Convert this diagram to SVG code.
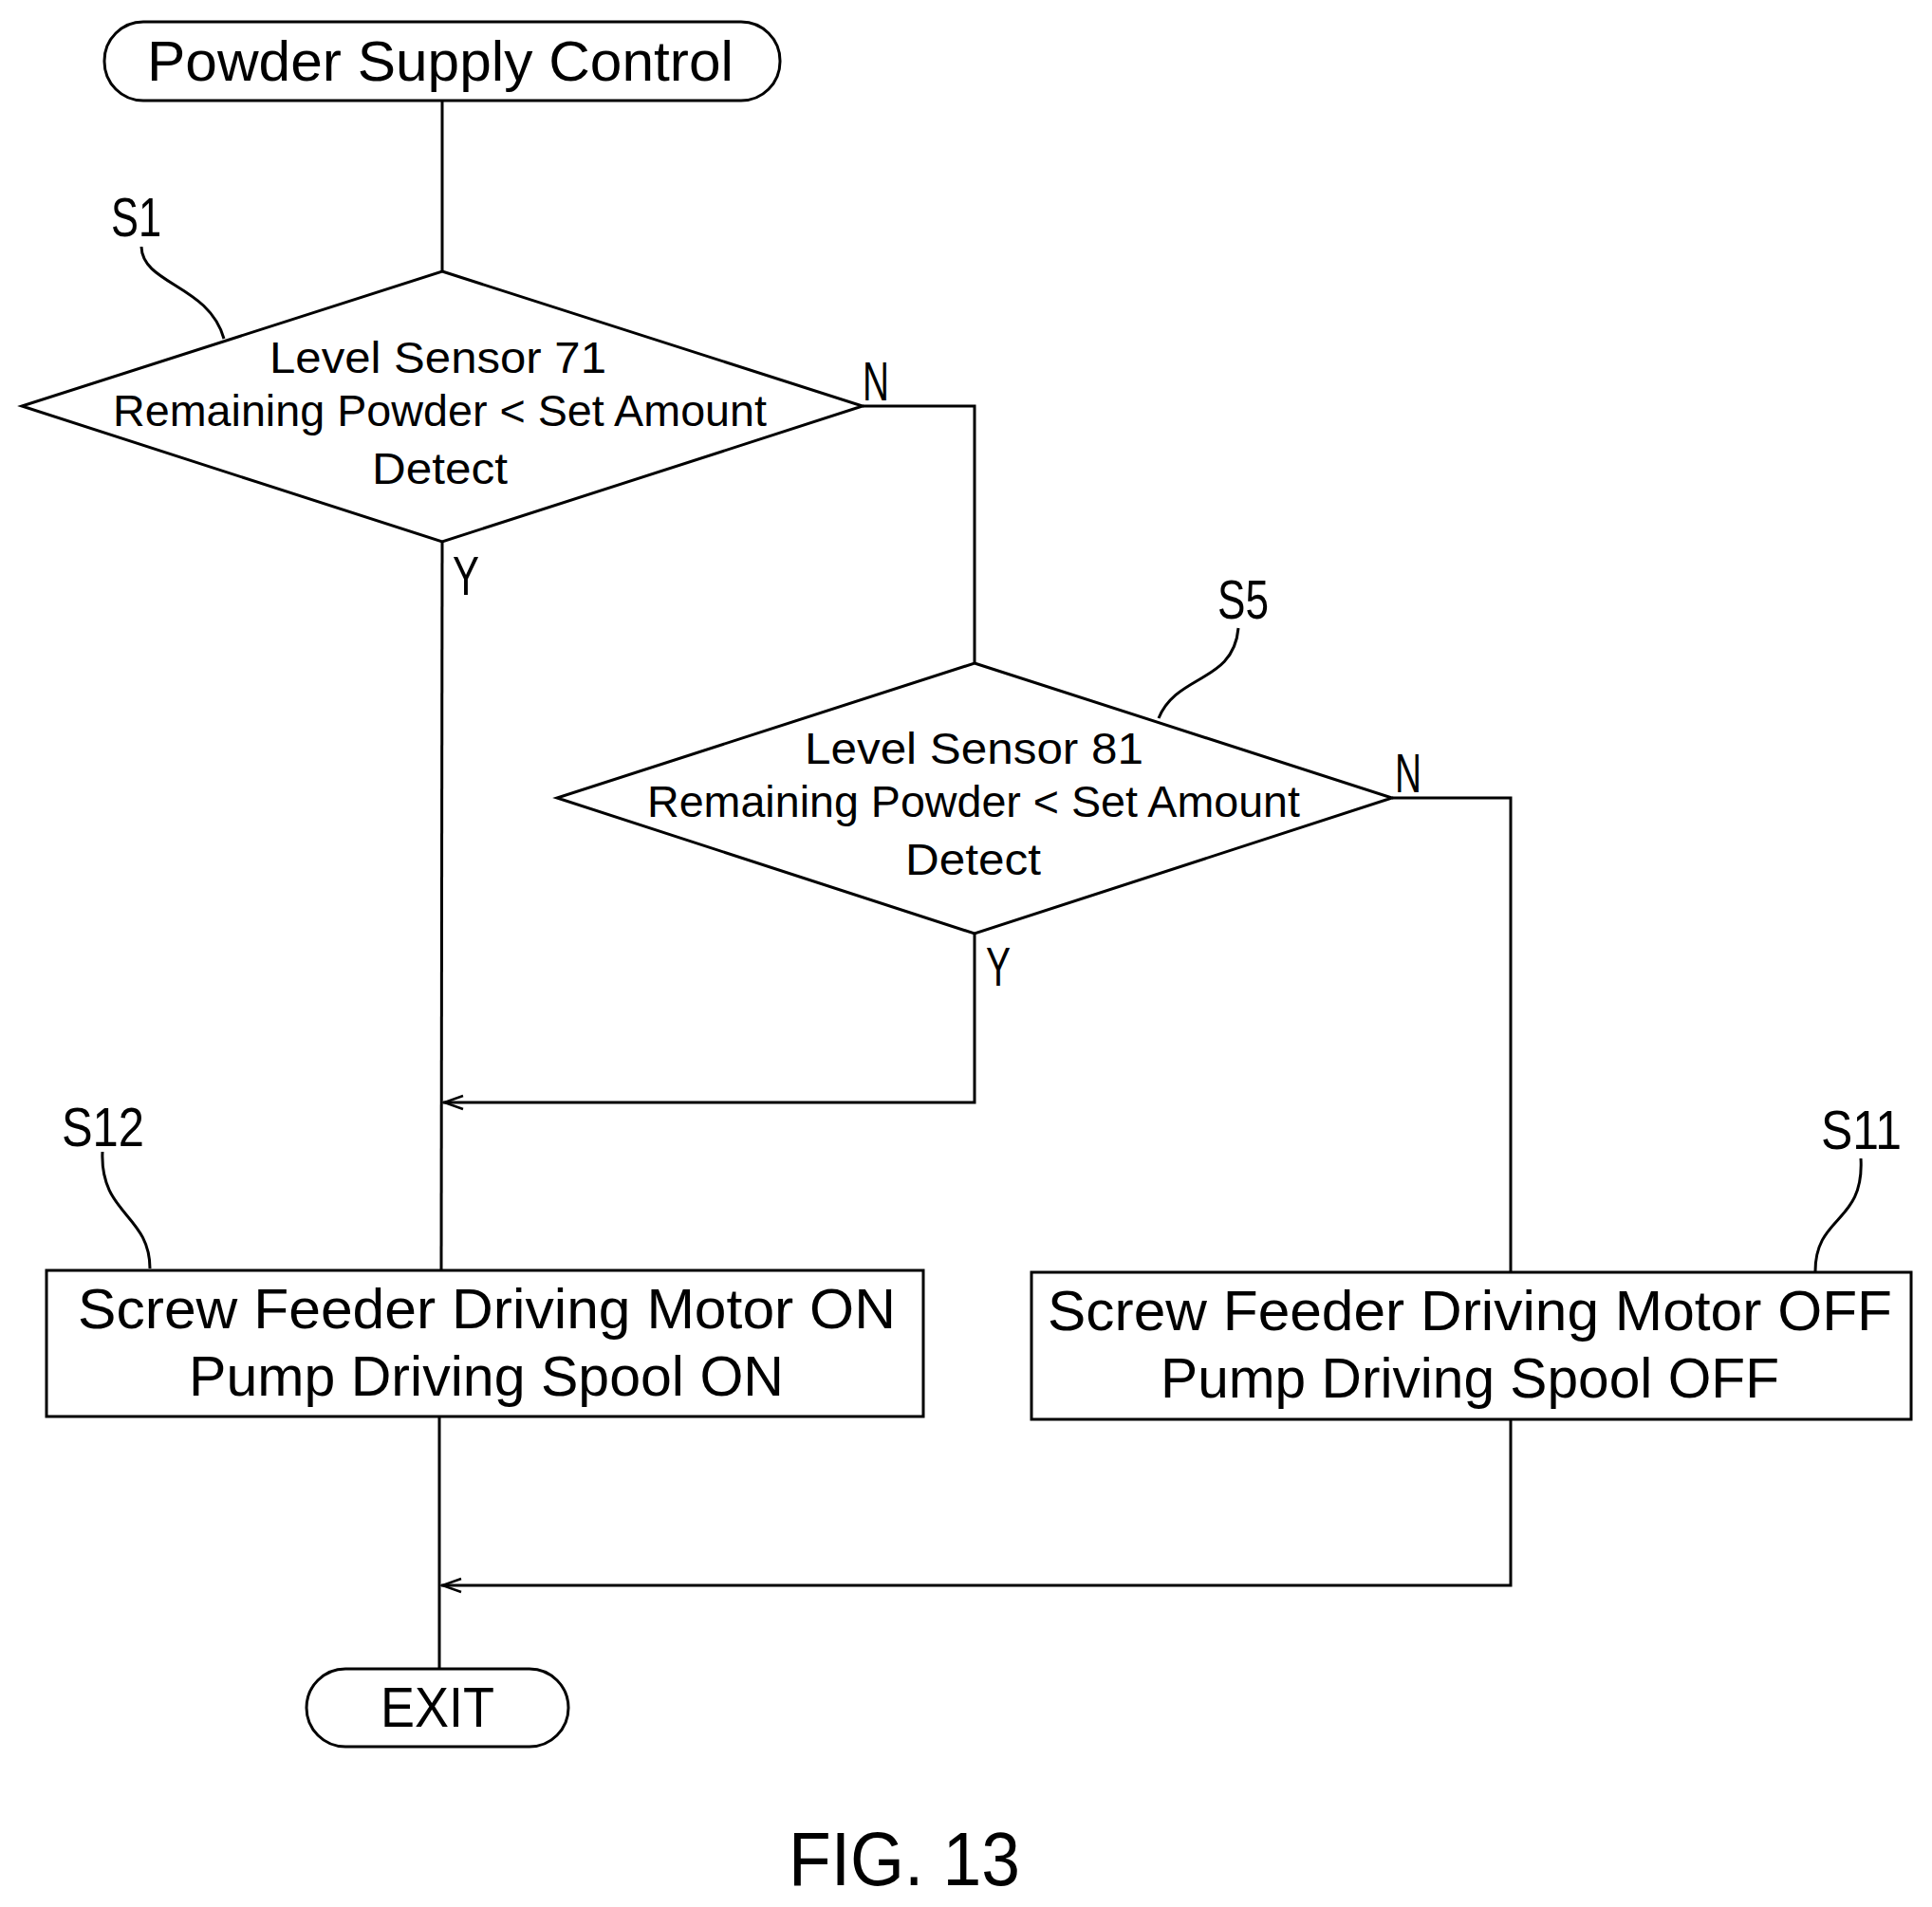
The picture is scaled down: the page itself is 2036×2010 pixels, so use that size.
<svg xmlns="http://www.w3.org/2000/svg" width="2036" height="2010" viewBox="0 0 2036 2010">
<style>
.s{fill:none;stroke:#000;stroke-width:3}
.t{font-family:"Liberation Sans",sans-serif;fill:#000;text-anchor:start}
.d{font-size:46px}.b{font-size:60px}.l{font-size:58px}
</style>
<defs><marker id="a" markerWidth="20" markerHeight="20" refX="2" refY="10" orient="auto" markerUnits="userSpaceOnUse"><polyline points="20,2 2,10 20,18" fill="none" stroke="#000" stroke-width="2.5" transform="rotate(180 10 10) translate(0,0)"/></marker>
<marker id="h" markerWidth="24" markerHeight="20" refX="1" refY="10" orient="0" markerUnits="userSpaceOnUse"><polyline points="22,3 2,10 22,17" fill="none" stroke="#000" stroke-width="2.5"/></marker></defs>
<rect width="2036" height="2010" fill="#fff"/>
<g id="connectors" class="s">
<line x1="466" y1="106" x2="466" y2="286"/>
<polyline points="909,428 1027,428 1027,699"/>
<polyline points="1467,841 1592,841 1592,1341"/>
<line x1="466" y1="571" x2="465" y2="1339"/>
<polyline points="1027,984 1027,1162 467,1162" marker-end="url(#h)"/>
<polyline points="1592,1496 1592,1671 465,1671" marker-end="url(#h)"/>
<line x1="463" y1="1493" x2="463" y2="1759"/>
<path d="M149,260 C150,300 220,300 236,357"/>
<path d="M1305,662 C1300,720 1240,710 1221,757"/>
<path d="M108,1214 C105,1280 158,1280 158,1337"/>
<path d="M1961,1221 C1965,1290 1913,1280 1913,1340"/>
</g>
<g id="start"><rect x="110" y="23" width="712" height="83" rx="41" class="s"/><text class="t b" x="155" y="85" textLength="618" lengthAdjust="spacingAndGlyphs">Powder Supply Control</text></g>
<g id="s1"><polygon points="466,286 909,428 466,571 23,428" class="s"/>
<text class="t d" x="284" y="393" textLength="355" lengthAdjust="spacingAndGlyphs">Level Sensor 71</text>
<text class="t d" x="119" y="449" textLength="689" lengthAdjust="spacingAndGlyphs">Remaining Powder &lt; Set Amount</text>
<text class="t d" x="392" y="510" textLength="143" lengthAdjust="spacingAndGlyphs">Detect</text>
<text class="t l" x="117" y="249" textLength="53" lengthAdjust="spacingAndGlyphs">S1</text></g>
<g id="s5"><polygon points="1027,699 1467,841 1027,984 587,841" class="s"/>
<text class="t d" x="848" y="805" textLength="357" lengthAdjust="spacingAndGlyphs">Level Sensor 81</text>
<text class="t d" x="682" y="861" textLength="688" lengthAdjust="spacingAndGlyphs">Remaining Powder &lt; Set Amount</text>
<text class="t d" x="954" y="922" textLength="143" lengthAdjust="spacingAndGlyphs">Detect</text>
<text class="t l" x="1283" y="652" textLength="54" lengthAdjust="spacingAndGlyphs">S5</text></g>
<g id="labels">
<text class="t l" x="909" y="422" textLength="28" lengthAdjust="spacingAndGlyphs">N</text>
<text class="t l" x="477" y="627" textLength="28" lengthAdjust="spacingAndGlyphs">Y</text>
<text class="t l" x="1470" y="835" textLength="28" lengthAdjust="spacingAndGlyphs">N</text>
<text class="t l" x="1039" y="1039" textLength="26" lengthAdjust="spacingAndGlyphs">Y</text>
</g>
<g id="s12"><rect x="49" y="1339" width="924" height="154" class="s"/>
<text class="t b" x="82" y="1400" textLength="862" lengthAdjust="spacingAndGlyphs">Screw Feeder Driving Motor ON</text>
<text class="t b" x="199" y="1471" textLength="627" lengthAdjust="spacingAndGlyphs">Pump Driving Spool ON</text>
<text class="t l" x="65" y="1208" textLength="87" lengthAdjust="spacingAndGlyphs">S12</text></g>
<g id="s11"><rect x="1087" y="1341" width="927" height="155" class="s"/>
<text class="t b" x="1104" y="1402" textLength="890" lengthAdjust="spacingAndGlyphs">Screw Feeder Driving Motor OFF</text>
<text class="t b" x="1223" y="1473" textLength="652" lengthAdjust="spacingAndGlyphs">Pump Driving Spool OFF</text>
<text class="t l" x="1919" y="1211" textLength="85" lengthAdjust="spacingAndGlyphs">S11</text></g>
<g id="exit"><rect x="323" y="1759" width="276" height="82" rx="41" class="s"/><text class="t b" x="401" y="1820" textLength="120" lengthAdjust="spacingAndGlyphs">EXIT</text></g>
<text class="t" style="font-size:80px" x="831" y="1987" textLength="244" lengthAdjust="spacingAndGlyphs">FIG. 13</text>
</svg>
